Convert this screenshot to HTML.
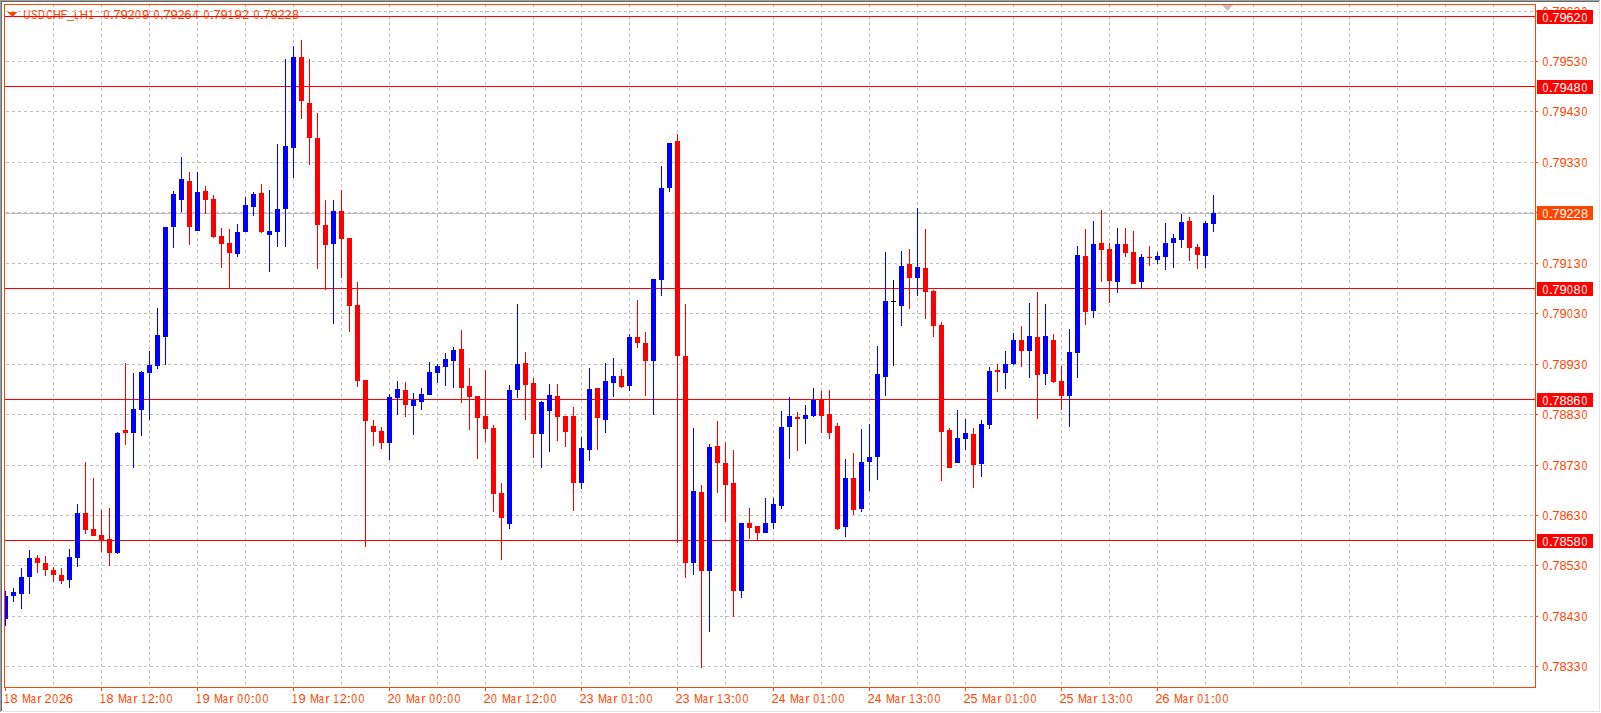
<!DOCTYPE html><html><head><meta charset="utf-8"><style>
html,body{margin:0;padding:0;background:#fff;overflow:hidden}
svg{display:block} text{font-family:"Liberation Sans", sans-serif;}
</style></head><body>
<svg width="1601" height="713" viewBox="0 0 1601 713">
<defs><clipPath id="ca"><rect x="5" y="5" width="1530" height="682"/></clipPath></defs>
<rect x="0" y="0" width="1601" height="713" fill="#fff"/>
<g shape-rendering="crispEdges">
<g stroke="#C0C0C0" stroke-width="1" stroke-dasharray="3 3" fill="none">
<line x1="6" y1="11.5" x2="1535" y2="11.5"/>
<line x1="6" y1="61.5" x2="1535" y2="61.5"/>
<line x1="6" y1="111.5" x2="1535" y2="111.5"/>
<line x1="6" y1="162.5" x2="1535" y2="162.5"/>
<line x1="6" y1="212.5" x2="1535" y2="212.5"/>
<line x1="6" y1="263.5" x2="1535" y2="263.5"/>
<line x1="6" y1="313.5" x2="1535" y2="313.5"/>
<line x1="6" y1="364.5" x2="1535" y2="364.5"/>
<line x1="6" y1="414.5" x2="1535" y2="414.5"/>
<line x1="6" y1="465.5" x2="1535" y2="465.5"/>
<line x1="6" y1="515.5" x2="1535" y2="515.5"/>
<line x1="6" y1="565.5" x2="1535" y2="565.5"/>
<line x1="6" y1="616.5" x2="1535" y2="616.5"/>
<line x1="6" y1="666.5" x2="1535" y2="666.5"/>
<line x1="53.5" y1="4" x2="53.5" y2="687"/>
<line x1="101.5" y1="4" x2="101.5" y2="687"/>
<line x1="149.5" y1="4" x2="149.5" y2="687"/>
<line x1="197.5" y1="4" x2="197.5" y2="687"/>
<line x1="245.5" y1="4" x2="245.5" y2="687"/>
<line x1="293.5" y1="4" x2="293.5" y2="687"/>
<line x1="341.5" y1="4" x2="341.5" y2="687"/>
<line x1="389.5" y1="4" x2="389.5" y2="687"/>
<line x1="437.5" y1="4" x2="437.5" y2="687"/>
<line x1="485.5" y1="4" x2="485.5" y2="687"/>
<line x1="533.5" y1="4" x2="533.5" y2="687"/>
<line x1="581.5" y1="4" x2="581.5" y2="687"/>
<line x1="629.5" y1="4" x2="629.5" y2="687"/>
<line x1="677.5" y1="4" x2="677.5" y2="687"/>
<line x1="725.5" y1="4" x2="725.5" y2="687"/>
<line x1="773.5" y1="4" x2="773.5" y2="687"/>
<line x1="821.5" y1="4" x2="821.5" y2="687"/>
<line x1="869.5" y1="4" x2="869.5" y2="687"/>
<line x1="917.5" y1="4" x2="917.5" y2="687"/>
<line x1="965.5" y1="4" x2="965.5" y2="687"/>
<line x1="1013.5" y1="4" x2="1013.5" y2="687"/>
<line x1="1061.5" y1="4" x2="1061.5" y2="687"/>
<line x1="1109.5" y1="4" x2="1109.5" y2="687"/>
<line x1="1157.5" y1="4" x2="1157.5" y2="687"/>
<line x1="1205.5" y1="4" x2="1205.5" y2="687"/>
<line x1="1253.5" y1="4" x2="1253.5" y2="687"/>
<line x1="1301.5" y1="4" x2="1301.5" y2="687"/>
<line x1="1349.5" y1="4" x2="1349.5" y2="687"/>
<line x1="1397.5" y1="4" x2="1397.5" y2="687"/>
<line x1="1445.5" y1="4" x2="1445.5" y2="687"/>
<line x1="1493.5" y1="4" x2="1493.5" y2="687"/>
</g>
<rect x="5" y="213" width="1530" height="1" fill="#C0C0C0"/>
</g>
<g font-size="12.7" fill="#FF4500">
<text transform="translate(23.34,0) scale(0.776,1)" x="0" y="19">U</text>
<text transform="translate(31.33,0) scale(0.725,1)" x="0" y="19">S</text>
<text transform="translate(38.02,0) scale(0.744,1)" x="0" y="19">D</text>
<text transform="translate(46.35,0) scale(0.696,1)" x="0" y="19">C</text>
<text transform="translate(52.67,0) scale(0.888,1)" x="0" y="19">H</text>
<text transform="translate(60.86,0) scale(0.805,1)" x="0" y="19">F</text>
<text transform="translate(66.99,0) scale(0.973,1)" x="0" y="18">_</text>
<text transform="translate(74.01,0) scale(0.985,1)" x="0" y="19">i</text>
<text transform="translate(75.16,0) scale(1.043,1)" x="0" y="19">,</text>
<text transform="translate(79.82,0) scale(0.888,1)" x="0" y="19">H</text>
<text transform="translate(88.19,0) scale(0.785,1)" x="0" y="19">1</text>
<text transform="translate(103.59,0) scale(0.824,1)" x="0" y="19">0</text>
<text transform="translate(109.37,0) scale(1.489,1)" x="0" y="19">.</text>
<text transform="translate(113.32,0) scale(1.039,1)" x="0" y="19">7</text>
<text transform="translate(120.39,0) scale(1.023,1)" x="0" y="19">9</text>
<text transform="translate(127.46,0) scale(1.002,1)" x="0" y="19">2</text>
<text transform="translate(135.09,0) scale(0.824,1)" x="0" y="19">0</text>
<text transform="translate(141.89,0) scale(1.023,1)" x="0" y="19">9</text>
<text transform="translate(153.59,0) scale(0.824,1)" x="0" y="19">0</text>
<text transform="translate(159.37,0) scale(1.489,1)" x="0" y="19">.</text>
<text transform="translate(163.32,0) scale(1.039,1)" x="0" y="19">7</text>
<text transform="translate(170.39,0) scale(1.023,1)" x="0" y="19">9</text>
<text transform="translate(177.46,0) scale(1.002,1)" x="0" y="19">2</text>
<text transform="translate(184.34,0) scale(1.024,1)" x="0" y="19">6</text>
<text transform="translate(192.23,0) scale(0.938,1)" x="0" y="19">4</text>
<text transform="translate(203.59,0) scale(0.824,1)" x="0" y="19">0</text>
<text transform="translate(209.37,0) scale(1.489,1)" x="0" y="19">.</text>
<text transform="translate(213.32,0) scale(1.039,1)" x="0" y="19">7</text>
<text transform="translate(220.39,0) scale(1.023,1)" x="0" y="19">9</text>
<text transform="translate(228.09,0) scale(0.785,1)" x="0" y="19">1</text>
<text transform="translate(234.39,0) scale(1.023,1)" x="0" y="19">9</text>
<text transform="translate(241.96,0) scale(1.002,1)" x="0" y="19">2</text>
<text transform="translate(253.59,0) scale(0.824,1)" x="0" y="19">0</text>
<text transform="translate(259.37,0) scale(1.489,1)" x="0" y="19">.</text>
<text transform="translate(263.32,0) scale(1.039,1)" x="0" y="19">7</text>
<text transform="translate(270.39,0) scale(1.023,1)" x="0" y="19">9</text>
<text transform="translate(277.46,0) scale(1.002,1)" x="0" y="19">2</text>
<text transform="translate(284.46,0) scale(1.002,1)" x="0" y="19">2</text>
<text transform="translate(291.94,0) scale(1.007,1)" x="0" y="19">8</text>
</g>
<g shape-rendering="crispEdges">
<rect x="5" y="16" width="1530" height="1" fill="#FF0000"/>
<rect x="5" y="86" width="1530" height="1" fill="#FF0000"/>
<rect x="5" y="288" width="1530" height="1" fill="#FF0000"/>
<rect x="5" y="399" width="1530" height="1" fill="#FF0000"/>
<rect x="5" y="540" width="1530" height="1" fill="#FF0000"/>
<g clip-path="url(#ca)">
<rect x="5" y="591" width="1" height="35" fill="#0000FF"/>
<rect x="3" y="596" width="5" height="23" fill="#0000FF"/>
<rect x="13" y="588" width="1" height="14" fill="#0000FF"/>
<rect x="11" y="592" width="5" height="4" fill="#0000FF"/>
<rect x="21" y="568" width="1" height="41" fill="#0000FF"/>
<rect x="19" y="577" width="5" height="17" fill="#0000FF"/>
<rect x="29" y="550" width="1" height="44" fill="#0000FF"/>
<rect x="27" y="558" width="5" height="19" fill="#0000FF"/>
<rect x="37" y="555" width="1" height="18" fill="#FF0000"/>
<rect x="35" y="558" width="5" height="5" fill="#FF0000"/>
<rect x="45" y="556" width="1" height="20" fill="#FF0000"/>
<rect x="43" y="563" width="5" height="7" fill="#FF0000"/>
<rect x="53" y="567" width="1" height="15" fill="#FF0000"/>
<rect x="51" y="570" width="5" height="5" fill="#FF0000"/>
<rect x="61" y="568" width="1" height="16" fill="#FF0000"/>
<rect x="59" y="575" width="5" height="6" fill="#FF0000"/>
<rect x="69" y="549" width="1" height="39" fill="#0000FF"/>
<rect x="67" y="557" width="5" height="23" fill="#0000FF"/>
<rect x="77" y="504" width="1" height="63" fill="#0000FF"/>
<rect x="75" y="513" width="5" height="45" fill="#0000FF"/>
<rect x="85" y="462" width="1" height="72" fill="#FF0000"/>
<rect x="83" y="513" width="5" height="17" fill="#FF0000"/>
<rect x="93" y="478" width="1" height="58" fill="#FF0000"/>
<rect x="91" y="529" width="5" height="7" fill="#FF0000"/>
<rect x="101" y="510" width="1" height="42" fill="#FF0000"/>
<rect x="99" y="535" width="5" height="6" fill="#FF0000"/>
<rect x="109" y="508" width="1" height="58" fill="#FF0000"/>
<rect x="107" y="539" width="5" height="14" fill="#FF0000"/>
<rect x="117" y="432" width="1" height="122" fill="#0000FF"/>
<rect x="115" y="433" width="5" height="120" fill="#0000FF"/>
<rect x="125" y="363" width="1" height="82" fill="#FF0000"/>
<rect x="123" y="430" width="5" height="3" fill="#FF0000"/>
<rect x="133" y="373" width="1" height="95" fill="#0000FF"/>
<rect x="131" y="409" width="5" height="24" fill="#0000FF"/>
<rect x="141" y="371" width="1" height="65" fill="#0000FF"/>
<rect x="139" y="372" width="5" height="38" fill="#0000FF"/>
<rect x="149" y="351" width="1" height="69" fill="#0000FF"/>
<rect x="147" y="365" width="5" height="8" fill="#0000FF"/>
<rect x="157" y="308" width="1" height="61" fill="#0000FF"/>
<rect x="155" y="335" width="5" height="31" fill="#0000FF"/>
<rect x="165" y="227" width="1" height="138" fill="#0000FF"/>
<rect x="163" y="227" width="5" height="110" fill="#0000FF"/>
<rect x="173" y="191" width="1" height="57" fill="#0000FF"/>
<rect x="171" y="194" width="5" height="33" fill="#0000FF"/>
<rect x="181" y="157" width="1" height="55" fill="#0000FF"/>
<rect x="179" y="179" width="5" height="21" fill="#0000FF"/>
<rect x="189" y="172" width="1" height="73" fill="#FF0000"/>
<rect x="187" y="181" width="5" height="46" fill="#FF0000"/>
<rect x="197" y="172" width="1" height="59" fill="#0000FF"/>
<rect x="195" y="192" width="5" height="39" fill="#0000FF"/>
<rect x="205" y="186" width="1" height="28" fill="#FF0000"/>
<rect x="203" y="191" width="5" height="9" fill="#FF0000"/>
<rect x="213" y="195" width="1" height="43" fill="#FF0000"/>
<rect x="211" y="199" width="5" height="38" fill="#FF0000"/>
<rect x="221" y="228" width="1" height="40" fill="#FF0000"/>
<rect x="219" y="236" width="5" height="8" fill="#FF0000"/>
<rect x="229" y="229" width="1" height="60" fill="#FF0000"/>
<rect x="227" y="243" width="5" height="10" fill="#FF0000"/>
<rect x="237" y="224" width="1" height="33" fill="#0000FF"/>
<rect x="235" y="232" width="5" height="22" fill="#0000FF"/>
<rect x="245" y="197" width="1" height="35" fill="#0000FF"/>
<rect x="243" y="205" width="5" height="27" fill="#0000FF"/>
<rect x="253" y="192" width="1" height="24" fill="#0000FF"/>
<rect x="251" y="194" width="5" height="13" fill="#0000FF"/>
<rect x="261" y="184" width="1" height="49" fill="#FF0000"/>
<rect x="259" y="193" width="5" height="39" fill="#FF0000"/>
<rect x="269" y="190" width="1" height="82" fill="#0000FF"/>
<rect x="267" y="231" width="5" height="4" fill="#0000FF"/>
<rect x="277" y="144" width="1" height="103" fill="#0000FF"/>
<rect x="275" y="209" width="5" height="23" fill="#0000FF"/>
<rect x="285" y="59" width="1" height="188" fill="#0000FF"/>
<rect x="283" y="146" width="5" height="63" fill="#0000FF"/>
<rect x="293" y="46" width="1" height="132" fill="#0000FF"/>
<rect x="291" y="57" width="5" height="91" fill="#0000FF"/>
<rect x="301" y="40" width="1" height="79" fill="#FF0000"/>
<rect x="299" y="57" width="5" height="44" fill="#FF0000"/>
<rect x="309" y="59" width="1" height="106" fill="#FF0000"/>
<rect x="307" y="103" width="5" height="35" fill="#FF0000"/>
<rect x="317" y="113" width="1" height="156" fill="#FF0000"/>
<rect x="315" y="138" width="5" height="87" fill="#FF0000"/>
<rect x="325" y="200" width="1" height="90" fill="#FF0000"/>
<rect x="323" y="225" width="5" height="20" fill="#FF0000"/>
<rect x="333" y="200" width="1" height="124" fill="#0000FF"/>
<rect x="331" y="211" width="5" height="33" fill="#0000FF"/>
<rect x="341" y="190" width="1" height="88" fill="#FF0000"/>
<rect x="339" y="211" width="5" height="28" fill="#FF0000"/>
<rect x="349" y="238" width="1" height="94" fill="#FF0000"/>
<rect x="347" y="238" width="5" height="68" fill="#FF0000"/>
<rect x="357" y="282" width="1" height="105" fill="#FF0000"/>
<rect x="355" y="305" width="5" height="76" fill="#FF0000"/>
<rect x="365" y="380" width="1" height="167" fill="#FF0000"/>
<rect x="363" y="380" width="5" height="41" fill="#FF0000"/>
<rect x="373" y="420" width="1" height="26" fill="#FF0000"/>
<rect x="371" y="426" width="5" height="6" fill="#FF0000"/>
<rect x="381" y="427" width="1" height="22" fill="#FF0000"/>
<rect x="379" y="431" width="5" height="12" fill="#FF0000"/>
<rect x="389" y="394" width="1" height="66" fill="#0000FF"/>
<rect x="387" y="397" width="5" height="46" fill="#0000FF"/>
<rect x="397" y="381" width="1" height="34" fill="#0000FF"/>
<rect x="395" y="389" width="5" height="9" fill="#0000FF"/>
<rect x="405" y="382" width="1" height="35" fill="#FF0000"/>
<rect x="403" y="390" width="5" height="15" fill="#FF0000"/>
<rect x="413" y="393" width="1" height="42" fill="#0000FF"/>
<rect x="411" y="400" width="5" height="6" fill="#0000FF"/>
<rect x="421" y="388" width="1" height="22" fill="#0000FF"/>
<rect x="419" y="394" width="5" height="8" fill="#0000FF"/>
<rect x="429" y="362" width="1" height="33" fill="#0000FF"/>
<rect x="427" y="372" width="5" height="23" fill="#0000FF"/>
<rect x="437" y="364" width="1" height="19" fill="#0000FF"/>
<rect x="435" y="366" width="5" height="7" fill="#0000FF"/>
<rect x="445" y="353" width="1" height="33" fill="#0000FF"/>
<rect x="443" y="359" width="5" height="8" fill="#0000FF"/>
<rect x="453" y="347" width="1" height="41" fill="#0000FF"/>
<rect x="451" y="350" width="5" height="11" fill="#0000FF"/>
<rect x="461" y="330" width="1" height="73" fill="#FF0000"/>
<rect x="459" y="349" width="5" height="39" fill="#FF0000"/>
<rect x="469" y="368" width="1" height="62" fill="#FF0000"/>
<rect x="467" y="386" width="5" height="11" fill="#FF0000"/>
<rect x="477" y="396" width="1" height="63" fill="#FF0000"/>
<rect x="475" y="396" width="5" height="22" fill="#FF0000"/>
<rect x="485" y="370" width="1" height="72" fill="#FF0000"/>
<rect x="483" y="416" width="5" height="13" fill="#FF0000"/>
<rect x="493" y="425" width="1" height="87" fill="#FF0000"/>
<rect x="491" y="428" width="5" height="66" fill="#FF0000"/>
<rect x="501" y="483" width="1" height="77" fill="#FF0000"/>
<rect x="499" y="493" width="5" height="25" fill="#FF0000"/>
<rect x="509" y="385" width="1" height="144" fill="#0000FF"/>
<rect x="507" y="390" width="5" height="134" fill="#0000FF"/>
<rect x="517" y="304" width="1" height="94" fill="#0000FF"/>
<rect x="515" y="364" width="5" height="26" fill="#0000FF"/>
<rect x="525" y="352" width="1" height="68" fill="#FF0000"/>
<rect x="523" y="363" width="5" height="22" fill="#FF0000"/>
<rect x="533" y="378" width="1" height="80" fill="#FF0000"/>
<rect x="531" y="383" width="5" height="51" fill="#FF0000"/>
<rect x="541" y="401" width="1" height="67" fill="#0000FF"/>
<rect x="539" y="402" width="5" height="32" fill="#0000FF"/>
<rect x="549" y="384" width="1" height="68" fill="#0000FF"/>
<rect x="547" y="395" width="5" height="16" fill="#0000FF"/>
<rect x="557" y="384" width="1" height="57" fill="#FF0000"/>
<rect x="555" y="396" width="5" height="21" fill="#FF0000"/>
<rect x="565" y="416" width="1" height="31" fill="#FF0000"/>
<rect x="563" y="416" width="5" height="16" fill="#FF0000"/>
<rect x="573" y="407" width="1" height="104" fill="#FF0000"/>
<rect x="571" y="416" width="5" height="67" fill="#FF0000"/>
<rect x="581" y="437" width="1" height="52" fill="#0000FF"/>
<rect x="579" y="448" width="5" height="35" fill="#0000FF"/>
<rect x="589" y="368" width="1" height="93" fill="#0000FF"/>
<rect x="587" y="389" width="5" height="61" fill="#0000FF"/>
<rect x="597" y="388" width="1" height="62" fill="#FF0000"/>
<rect x="595" y="388" width="5" height="30" fill="#FF0000"/>
<rect x="605" y="363" width="1" height="70" fill="#0000FF"/>
<rect x="603" y="381" width="5" height="39" fill="#0000FF"/>
<rect x="613" y="358" width="1" height="39" fill="#0000FF"/>
<rect x="611" y="376" width="5" height="7" fill="#0000FF"/>
<rect x="621" y="369" width="1" height="19" fill="#FF0000"/>
<rect x="619" y="376" width="5" height="11" fill="#FF0000"/>
<rect x="629" y="334" width="1" height="57" fill="#0000FF"/>
<rect x="627" y="337" width="5" height="49" fill="#0000FF"/>
<rect x="637" y="300" width="1" height="48" fill="#FF0000"/>
<rect x="635" y="337" width="5" height="6" fill="#FF0000"/>
<rect x="645" y="332" width="1" height="64" fill="#FF0000"/>
<rect x="643" y="343" width="5" height="18" fill="#FF0000"/>
<rect x="653" y="279" width="1" height="136" fill="#0000FF"/>
<rect x="651" y="279" width="5" height="82" fill="#0000FF"/>
<rect x="661" y="166" width="1" height="130" fill="#0000FF"/>
<rect x="659" y="188" width="5" height="92" fill="#0000FF"/>
<rect x="669" y="143" width="1" height="49" fill="#0000FF"/>
<rect x="667" y="143" width="5" height="45" fill="#0000FF"/>
<rect x="677" y="134" width="1" height="409" fill="#FF0000"/>
<rect x="675" y="141" width="5" height="215" fill="#FF0000"/>
<rect x="685" y="304" width="1" height="274" fill="#FF0000"/>
<rect x="683" y="356" width="5" height="207" fill="#FF0000"/>
<rect x="693" y="428" width="1" height="147" fill="#0000FF"/>
<rect x="691" y="491" width="5" height="72" fill="#0000FF"/>
<rect x="701" y="485" width="1" height="183" fill="#FF0000"/>
<rect x="699" y="492" width="5" height="79" fill="#FF0000"/>
<rect x="709" y="444" width="1" height="188" fill="#0000FF"/>
<rect x="707" y="447" width="5" height="124" fill="#0000FF"/>
<rect x="717" y="421" width="1" height="72" fill="#FF0000"/>
<rect x="715" y="446" width="5" height="17" fill="#FF0000"/>
<rect x="725" y="442" width="1" height="80" fill="#FF0000"/>
<rect x="723" y="463" width="5" height="22" fill="#FF0000"/>
<rect x="733" y="450" width="1" height="167" fill="#FF0000"/>
<rect x="731" y="483" width="5" height="108" fill="#FF0000"/>
<rect x="741" y="523" width="1" height="75" fill="#0000FF"/>
<rect x="739" y="523" width="5" height="68" fill="#0000FF"/>
<rect x="749" y="508" width="1" height="31" fill="#FF0000"/>
<rect x="747" y="523" width="5" height="5" fill="#FF0000"/>
<rect x="757" y="526" width="1" height="15" fill="#FF0000"/>
<rect x="755" y="526" width="5" height="7" fill="#FF0000"/>
<rect x="765" y="498" width="1" height="35" fill="#0000FF"/>
<rect x="763" y="523" width="5" height="10" fill="#0000FF"/>
<rect x="773" y="498" width="1" height="31" fill="#0000FF"/>
<rect x="771" y="504" width="5" height="19" fill="#0000FF"/>
<rect x="781" y="411" width="1" height="98" fill="#0000FF"/>
<rect x="779" y="427" width="5" height="79" fill="#0000FF"/>
<rect x="789" y="397" width="1" height="62" fill="#0000FF"/>
<rect x="787" y="416" width="5" height="11" fill="#0000FF"/>
<rect x="797" y="412" width="1" height="39" fill="#FF0000"/>
<rect x="795" y="417" width="5" height="2" fill="#FF0000"/>
<rect x="805" y="405" width="1" height="39" fill="#0000FF"/>
<rect x="803" y="415" width="5" height="4" fill="#0000FF"/>
<rect x="813" y="388" width="1" height="29" fill="#0000FF"/>
<rect x="811" y="400" width="5" height="16" fill="#0000FF"/>
<rect x="821" y="391" width="1" height="42" fill="#FF0000"/>
<rect x="819" y="400" width="5" height="16" fill="#FF0000"/>
<rect x="829" y="390" width="1" height="49" fill="#FF0000"/>
<rect x="827" y="414" width="5" height="19" fill="#FF0000"/>
<rect x="837" y="423" width="1" height="107" fill="#FF0000"/>
<rect x="835" y="426" width="5" height="103" fill="#FF0000"/>
<rect x="845" y="459" width="1" height="78" fill="#0000FF"/>
<rect x="843" y="478" width="5" height="49" fill="#0000FF"/>
<rect x="853" y="453" width="1" height="62" fill="#FF0000"/>
<rect x="851" y="478" width="5" height="32" fill="#FF0000"/>
<rect x="861" y="429" width="1" height="83" fill="#0000FF"/>
<rect x="859" y="462" width="5" height="47" fill="#0000FF"/>
<rect x="869" y="424" width="1" height="67" fill="#0000FF"/>
<rect x="867" y="457" width="5" height="5" fill="#0000FF"/>
<rect x="877" y="346" width="1" height="134" fill="#0000FF"/>
<rect x="875" y="374" width="5" height="83" fill="#0000FF"/>
<rect x="885" y="252" width="1" height="144" fill="#0000FF"/>
<rect x="883" y="301" width="5" height="76" fill="#0000FF"/>
<rect x="893" y="280" width="1" height="86" fill="#000000"/>
<rect x="891" y="301" width="5" height="1" fill="#000000"/>
<rect x="901" y="251" width="1" height="75" fill="#0000FF"/>
<rect x="899" y="266" width="5" height="40" fill="#0000FF"/>
<rect x="909" y="249" width="1" height="60" fill="#FF0000"/>
<rect x="907" y="264" width="5" height="14" fill="#FF0000"/>
<rect x="917" y="208" width="1" height="88" fill="#0000FF"/>
<rect x="915" y="267" width="5" height="11" fill="#0000FF"/>
<rect x="925" y="229" width="1" height="90" fill="#FF0000"/>
<rect x="923" y="268" width="5" height="24" fill="#FF0000"/>
<rect x="933" y="290" width="1" height="47" fill="#FF0000"/>
<rect x="931" y="291" width="5" height="35" fill="#FF0000"/>
<rect x="941" y="322" width="1" height="159" fill="#FF0000"/>
<rect x="939" y="325" width="5" height="107" fill="#FF0000"/>
<rect x="949" y="428" width="1" height="40" fill="#FF0000"/>
<rect x="947" y="430" width="5" height="38" fill="#FF0000"/>
<rect x="957" y="410" width="1" height="53" fill="#0000FF"/>
<rect x="955" y="438" width="5" height="25" fill="#0000FF"/>
<rect x="965" y="419" width="1" height="31" fill="#0000FF"/>
<rect x="963" y="433" width="5" height="6" fill="#0000FF"/>
<rect x="973" y="428" width="1" height="60" fill="#FF0000"/>
<rect x="971" y="434" width="5" height="31" fill="#FF0000"/>
<rect x="981" y="420" width="1" height="57" fill="#0000FF"/>
<rect x="979" y="424" width="5" height="40" fill="#0000FF"/>
<rect x="989" y="367" width="1" height="62" fill="#0000FF"/>
<rect x="987" y="371" width="5" height="54" fill="#0000FF"/>
<rect x="997" y="364" width="1" height="28" fill="#FF0000"/>
<rect x="995" y="370" width="5" height="2" fill="#FF0000"/>
<rect x="1005" y="351" width="1" height="38" fill="#0000FF"/>
<rect x="1003" y="364" width="5" height="9" fill="#0000FF"/>
<rect x="1013" y="333" width="1" height="32" fill="#0000FF"/>
<rect x="1011" y="340" width="5" height="24" fill="#0000FF"/>
<rect x="1021" y="326" width="1" height="41" fill="#FF0000"/>
<rect x="1019" y="340" width="5" height="11" fill="#FF0000"/>
<rect x="1029" y="303" width="1" height="75" fill="#0000FF"/>
<rect x="1027" y="336" width="5" height="15" fill="#0000FF"/>
<rect x="1037" y="292" width="1" height="127" fill="#FF0000"/>
<rect x="1035" y="337" width="5" height="38" fill="#FF0000"/>
<rect x="1045" y="304" width="1" height="81" fill="#0000FF"/>
<rect x="1043" y="336" width="5" height="38" fill="#0000FF"/>
<rect x="1053" y="334" width="1" height="49" fill="#FF0000"/>
<rect x="1051" y="340" width="5" height="42" fill="#FF0000"/>
<rect x="1061" y="366" width="1" height="44" fill="#FF0000"/>
<rect x="1059" y="381" width="5" height="15" fill="#FF0000"/>
<rect x="1069" y="329" width="1" height="98" fill="#0000FF"/>
<rect x="1067" y="352" width="5" height="44" fill="#0000FF"/>
<rect x="1077" y="246" width="1" height="132" fill="#0000FF"/>
<rect x="1075" y="255" width="5" height="98" fill="#0000FF"/>
<rect x="1085" y="229" width="1" height="96" fill="#FF0000"/>
<rect x="1083" y="256" width="5" height="56" fill="#FF0000"/>
<rect x="1093" y="221" width="1" height="97" fill="#0000FF"/>
<rect x="1091" y="244" width="5" height="67" fill="#0000FF"/>
<rect x="1101" y="210" width="1" height="72" fill="#FF0000"/>
<rect x="1099" y="243" width="5" height="7" fill="#FF0000"/>
<rect x="1109" y="243" width="1" height="60" fill="#FF0000"/>
<rect x="1107" y="249" width="5" height="32" fill="#FF0000"/>
<rect x="1117" y="228" width="1" height="65" fill="#0000FF"/>
<rect x="1115" y="244" width="5" height="38" fill="#0000FF"/>
<rect x="1125" y="228" width="1" height="29" fill="#FF0000"/>
<rect x="1123" y="244" width="5" height="9" fill="#FF0000"/>
<rect x="1133" y="231" width="1" height="53" fill="#FF0000"/>
<rect x="1131" y="252" width="5" height="32" fill="#FF0000"/>
<rect x="1141" y="254" width="1" height="35" fill="#0000FF"/>
<rect x="1139" y="257" width="5" height="25" fill="#0000FF"/>
<rect x="1149" y="246" width="1" height="20" fill="#FF0000"/>
<rect x="1147" y="257" width="5" height="1" fill="#FF0000"/>
<rect x="1157" y="252" width="1" height="12" fill="#0000FF"/>
<rect x="1155" y="256" width="5" height="4" fill="#0000FF"/>
<rect x="1165" y="223" width="1" height="47" fill="#0000FF"/>
<rect x="1163" y="243" width="5" height="14" fill="#0000FF"/>
<rect x="1173" y="234" width="1" height="34" fill="#0000FF"/>
<rect x="1171" y="238" width="5" height="5" fill="#0000FF"/>
<rect x="1181" y="214" width="1" height="34" fill="#0000FF"/>
<rect x="1179" y="222" width="5" height="18" fill="#0000FF"/>
<rect x="1189" y="217" width="1" height="44" fill="#FF0000"/>
<rect x="1187" y="221" width="5" height="27" fill="#FF0000"/>
<rect x="1197" y="244" width="1" height="25" fill="#FF0000"/>
<rect x="1195" y="247" width="5" height="8" fill="#FF0000"/>
<rect x="1205" y="221" width="1" height="47" fill="#0000FF"/>
<rect x="1203" y="223" width="5" height="33" fill="#0000FF"/>
<rect x="1213" y="195" width="1" height="37" fill="#0000FF"/>
<rect x="1211" y="213" width="5" height="11" fill="#0000FF"/>
</g>
<polygon points="1222,5 1233,5 1227.5,11" fill="#C0C0C0" shape-rendering="auto"/>
<rect x="4" y="4" width="1532" height="1" fill="#FF4500"/>
<rect x="4" y="687" width="1532" height="1" fill="#FF4500"/>
<rect x="4" y="4" width="1" height="684" fill="#FF4500"/>
<rect x="1535" y="4" width="1" height="684" fill="#FF4500"/>
<rect x="1536" y="11" width="2" height="1" fill="#FF4500"/>
<rect x="1536" y="61" width="2" height="1" fill="#FF4500"/>
<rect x="1536" y="111" width="2" height="1" fill="#FF4500"/>
<rect x="1536" y="162" width="2" height="1" fill="#FF4500"/>
<rect x="1536" y="212" width="2" height="1" fill="#FF4500"/>
<rect x="1536" y="263" width="2" height="1" fill="#FF4500"/>
<rect x="1536" y="313" width="2" height="1" fill="#FF4500"/>
<rect x="1536" y="364" width="2" height="1" fill="#FF4500"/>
<rect x="1536" y="414" width="2" height="1" fill="#FF4500"/>
<rect x="1536" y="465" width="2" height="1" fill="#FF4500"/>
<rect x="1536" y="515" width="2" height="1" fill="#FF4500"/>
<rect x="1536" y="565" width="2" height="1" fill="#FF4500"/>
<rect x="1536" y="616" width="2" height="1" fill="#FF4500"/>
<rect x="1536" y="666" width="2" height="1" fill="#FF4500"/>
<rect x="5" y="688" width="1" height="3" fill="#FF4500"/>
<rect x="101" y="688" width="1" height="3" fill="#FF4500"/>
<rect x="197" y="688" width="1" height="3" fill="#FF4500"/>
<rect x="293" y="688" width="1" height="3" fill="#FF4500"/>
<rect x="389" y="688" width="1" height="3" fill="#FF4500"/>
<rect x="485" y="688" width="1" height="3" fill="#FF4500"/>
<rect x="581" y="688" width="1" height="3" fill="#FF4500"/>
<rect x="677" y="688" width="1" height="3" fill="#FF4500"/>
<rect x="773" y="688" width="1" height="3" fill="#FF4500"/>
<rect x="869" y="688" width="1" height="3" fill="#FF4500"/>
<rect x="965" y="688" width="1" height="3" fill="#FF4500"/>
<rect x="1061" y="688" width="1" height="3" fill="#FF4500"/>
<rect x="1157" y="688" width="1" height="3" fill="#FF4500"/>
<rect x="8" y="12" width="9" height="1" fill="#FF4500"/>
<rect x="9" y="13" width="7" height="1" fill="#FF4500"/>
<rect x="10" y="14" width="5" height="1" fill="#FF4500"/>
<rect x="11" y="15" width="3" height="1" fill="#FF4500"/>
<rect x="12" y="16" width="1" height="1" fill="#FF4500"/>
<rect x="0" y="0" width="1600" height="1" fill="#A0A0A0"/>
<rect x="0" y="0" width="1" height="712" fill="#A0A0A0"/>
<rect x="1" y="1" width="1598" height="1" fill="#696969"/>
<rect x="1" y="1" width="1" height="710" fill="#696969"/>
<rect x="1599" y="1" width="1" height="711" fill="#E3E3E3"/>
<rect x="1" y="711" width="1599" height="1" fill="#E3E3E3"/>
</g>
<g font-size="12.7" fill="#FF4500">
<text transform="translate(1542.59,0) scale(0.824,1)" x="0" y="16">0</text>
<text transform="translate(1548.37,0) scale(1.489,1)" x="0" y="16">.</text>
<text transform="translate(1552.32,0) scale(1.039,1)" x="0" y="16">7</text>
<text transform="translate(1559.39,0) scale(1.023,1)" x="0" y="16">9</text>
<text transform="translate(1566.34,0) scale(1.024,1)" x="0" y="16">6</text>
<text transform="translate(1573.52,0) scale(0.996,1)" x="0" y="16">3</text>
<text transform="translate(1581.59,0) scale(0.824,1)" x="0" y="16">0</text>
<text transform="translate(1542.59,0) scale(0.824,1)" x="0" y="66">0</text>
<text transform="translate(1548.37,0) scale(1.489,1)" x="0" y="66">.</text>
<text transform="translate(1552.32,0) scale(1.039,1)" x="0" y="66">7</text>
<text transform="translate(1559.39,0) scale(1.023,1)" x="0" y="66">9</text>
<text transform="translate(1566.49,0) scale(0.996,1)" x="0" y="66">5</text>
<text transform="translate(1573.52,0) scale(0.996,1)" x="0" y="66">3</text>
<text transform="translate(1581.59,0) scale(0.824,1)" x="0" y="66">0</text>
<text transform="translate(1542.59,0) scale(0.824,1)" x="0" y="116">0</text>
<text transform="translate(1548.37,0) scale(1.489,1)" x="0" y="116">.</text>
<text transform="translate(1552.32,0) scale(1.039,1)" x="0" y="116">7</text>
<text transform="translate(1559.39,0) scale(1.023,1)" x="0" y="116">9</text>
<text transform="translate(1566.73,0) scale(0.938,1)" x="0" y="116">4</text>
<text transform="translate(1573.52,0) scale(0.996,1)" x="0" y="116">3</text>
<text transform="translate(1581.59,0) scale(0.824,1)" x="0" y="116">0</text>
<text transform="translate(1542.59,0) scale(0.824,1)" x="0" y="167">0</text>
<text transform="translate(1548.37,0) scale(1.489,1)" x="0" y="167">.</text>
<text transform="translate(1552.32,0) scale(1.039,1)" x="0" y="167">7</text>
<text transform="translate(1559.39,0) scale(1.023,1)" x="0" y="167">9</text>
<text transform="translate(1566.52,0) scale(0.996,1)" x="0" y="167">3</text>
<text transform="translate(1573.52,0) scale(0.996,1)" x="0" y="167">3</text>
<text transform="translate(1581.59,0) scale(0.824,1)" x="0" y="167">0</text>
<text transform="translate(1542.59,0) scale(0.824,1)" x="0" y="217">0</text>
<text transform="translate(1548.37,0) scale(1.489,1)" x="0" y="217">.</text>
<text transform="translate(1552.32,0) scale(1.039,1)" x="0" y="217">7</text>
<text transform="translate(1559.39,0) scale(1.023,1)" x="0" y="217">9</text>
<text transform="translate(1566.46,0) scale(1.002,1)" x="0" y="217">2</text>
<text transform="translate(1573.52,0) scale(0.996,1)" x="0" y="217">3</text>
<text transform="translate(1581.59,0) scale(0.824,1)" x="0" y="217">0</text>
<text transform="translate(1542.59,0) scale(0.824,1)" x="0" y="268">0</text>
<text transform="translate(1548.37,0) scale(1.489,1)" x="0" y="268">.</text>
<text transform="translate(1552.32,0) scale(1.039,1)" x="0" y="268">7</text>
<text transform="translate(1559.39,0) scale(1.023,1)" x="0" y="268">9</text>
<text transform="translate(1567.09,0) scale(0.785,1)" x="0" y="268">1</text>
<text transform="translate(1573.52,0) scale(0.996,1)" x="0" y="268">3</text>
<text transform="translate(1581.59,0) scale(0.824,1)" x="0" y="268">0</text>
<text transform="translate(1542.59,0) scale(0.824,1)" x="0" y="318">0</text>
<text transform="translate(1548.37,0) scale(1.489,1)" x="0" y="318">.</text>
<text transform="translate(1552.32,0) scale(1.039,1)" x="0" y="318">7</text>
<text transform="translate(1559.39,0) scale(1.023,1)" x="0" y="318">9</text>
<text transform="translate(1567.09,0) scale(0.824,1)" x="0" y="318">0</text>
<text transform="translate(1573.52,0) scale(0.996,1)" x="0" y="318">3</text>
<text transform="translate(1581.59,0) scale(0.824,1)" x="0" y="318">0</text>
<text transform="translate(1542.59,0) scale(0.824,1)" x="0" y="369">0</text>
<text transform="translate(1548.37,0) scale(1.489,1)" x="0" y="369">.</text>
<text transform="translate(1552.32,0) scale(1.039,1)" x="0" y="369">7</text>
<text transform="translate(1559.44,0) scale(1.007,1)" x="0" y="369">8</text>
<text transform="translate(1566.39,0) scale(1.023,1)" x="0" y="369">9</text>
<text transform="translate(1573.52,0) scale(0.996,1)" x="0" y="369">3</text>
<text transform="translate(1581.59,0) scale(0.824,1)" x="0" y="369">0</text>
<text transform="translate(1542.59,0) scale(0.824,1)" x="0" y="419">0</text>
<text transform="translate(1548.37,0) scale(1.489,1)" x="0" y="419">.</text>
<text transform="translate(1552.32,0) scale(1.039,1)" x="0" y="419">7</text>
<text transform="translate(1559.44,0) scale(1.007,1)" x="0" y="419">8</text>
<text transform="translate(1566.44,0) scale(1.007,1)" x="0" y="419">8</text>
<text transform="translate(1573.52,0) scale(0.996,1)" x="0" y="419">3</text>
<text transform="translate(1581.59,0) scale(0.824,1)" x="0" y="419">0</text>
<text transform="translate(1542.59,0) scale(0.824,1)" x="0" y="470">0</text>
<text transform="translate(1548.37,0) scale(1.489,1)" x="0" y="470">.</text>
<text transform="translate(1552.32,0) scale(1.039,1)" x="0" y="470">7</text>
<text transform="translate(1559.44,0) scale(1.007,1)" x="0" y="470">8</text>
<text transform="translate(1566.32,0) scale(1.039,1)" x="0" y="470">7</text>
<text transform="translate(1573.52,0) scale(0.996,1)" x="0" y="470">3</text>
<text transform="translate(1581.59,0) scale(0.824,1)" x="0" y="470">0</text>
<text transform="translate(1542.59,0) scale(0.824,1)" x="0" y="520">0</text>
<text transform="translate(1548.37,0) scale(1.489,1)" x="0" y="520">.</text>
<text transform="translate(1552.32,0) scale(1.039,1)" x="0" y="520">7</text>
<text transform="translate(1559.44,0) scale(1.007,1)" x="0" y="520">8</text>
<text transform="translate(1566.34,0) scale(1.024,1)" x="0" y="520">6</text>
<text transform="translate(1573.52,0) scale(0.996,1)" x="0" y="520">3</text>
<text transform="translate(1581.59,0) scale(0.824,1)" x="0" y="520">0</text>
<text transform="translate(1542.59,0) scale(0.824,1)" x="0" y="570">0</text>
<text transform="translate(1548.37,0) scale(1.489,1)" x="0" y="570">.</text>
<text transform="translate(1552.32,0) scale(1.039,1)" x="0" y="570">7</text>
<text transform="translate(1559.44,0) scale(1.007,1)" x="0" y="570">8</text>
<text transform="translate(1566.49,0) scale(0.996,1)" x="0" y="570">5</text>
<text transform="translate(1573.52,0) scale(0.996,1)" x="0" y="570">3</text>
<text transform="translate(1581.59,0) scale(0.824,1)" x="0" y="570">0</text>
<text transform="translate(1542.59,0) scale(0.824,1)" x="0" y="621">0</text>
<text transform="translate(1548.37,0) scale(1.489,1)" x="0" y="621">.</text>
<text transform="translate(1552.32,0) scale(1.039,1)" x="0" y="621">7</text>
<text transform="translate(1559.44,0) scale(1.007,1)" x="0" y="621">8</text>
<text transform="translate(1566.73,0) scale(0.938,1)" x="0" y="621">4</text>
<text transform="translate(1573.52,0) scale(0.996,1)" x="0" y="621">3</text>
<text transform="translate(1581.59,0) scale(0.824,1)" x="0" y="621">0</text>
<text transform="translate(1542.59,0) scale(0.824,1)" x="0" y="671">0</text>
<text transform="translate(1548.37,0) scale(1.489,1)" x="0" y="671">.</text>
<text transform="translate(1552.32,0) scale(1.039,1)" x="0" y="671">7</text>
<text transform="translate(1559.44,0) scale(1.007,1)" x="0" y="671">8</text>
<text transform="translate(1566.52,0) scale(0.996,1)" x="0" y="671">3</text>
<text transform="translate(1573.52,0) scale(0.996,1)" x="0" y="671">3</text>
<text transform="translate(1581.59,0) scale(0.824,1)" x="0" y="671">0</text>
</g>
<g shape-rendering="crispEdges">
<rect x="1537" y="10" width="56" height="14" fill="#FF0000"/>
<rect x="1537" y="80" width="56" height="14" fill="#FF0000"/>
<rect x="1537" y="282" width="56" height="14" fill="#FF0000"/>
<rect x="1537" y="393" width="56" height="14" fill="#FF0000"/>
<rect x="1537" y="534" width="56" height="14" fill="#FF0000"/>
<rect x="1537" y="206" width="56" height="14" fill="#FF4500"/>
</g>
<g font-size="12.7" fill="#FFFFFF">
<text transform="translate(1542.59,0) scale(0.824,1)" x="0" y="22">0</text>
<text transform="translate(1548.37,0) scale(1.489,1)" x="0" y="22">.</text>
<text transform="translate(1552.32,0) scale(1.039,1)" x="0" y="22">7</text>
<text transform="translate(1559.39,0) scale(1.023,1)" x="0" y="22">9</text>
<text transform="translate(1566.34,0) scale(1.024,1)" x="0" y="22">6</text>
<text transform="translate(1573.46,0) scale(1.002,1)" x="0" y="22">2</text>
<text transform="translate(1581.59,0) scale(0.824,1)" x="0" y="22">0</text>
<text transform="translate(1542.59,0) scale(0.824,1)" x="0" y="92">0</text>
<text transform="translate(1548.37,0) scale(1.489,1)" x="0" y="92">.</text>
<text transform="translate(1552.32,0) scale(1.039,1)" x="0" y="92">7</text>
<text transform="translate(1559.39,0) scale(1.023,1)" x="0" y="92">9</text>
<text transform="translate(1566.73,0) scale(0.938,1)" x="0" y="92">4</text>
<text transform="translate(1573.44,0) scale(1.007,1)" x="0" y="92">8</text>
<text transform="translate(1581.59,0) scale(0.824,1)" x="0" y="92">0</text>
<text transform="translate(1542.59,0) scale(0.824,1)" x="0" y="294">0</text>
<text transform="translate(1548.37,0) scale(1.489,1)" x="0" y="294">.</text>
<text transform="translate(1552.32,0) scale(1.039,1)" x="0" y="294">7</text>
<text transform="translate(1559.39,0) scale(1.023,1)" x="0" y="294">9</text>
<text transform="translate(1567.09,0) scale(0.824,1)" x="0" y="294">0</text>
<text transform="translate(1573.44,0) scale(1.007,1)" x="0" y="294">8</text>
<text transform="translate(1581.59,0) scale(0.824,1)" x="0" y="294">0</text>
<text transform="translate(1542.59,0) scale(0.824,1)" x="0" y="405">0</text>
<text transform="translate(1548.37,0) scale(1.489,1)" x="0" y="405">.</text>
<text transform="translate(1552.32,0) scale(1.039,1)" x="0" y="405">7</text>
<text transform="translate(1559.44,0) scale(1.007,1)" x="0" y="405">8</text>
<text transform="translate(1566.44,0) scale(1.007,1)" x="0" y="405">8</text>
<text transform="translate(1573.34,0) scale(1.024,1)" x="0" y="405">6</text>
<text transform="translate(1581.59,0) scale(0.824,1)" x="0" y="405">0</text>
<text transform="translate(1542.59,0) scale(0.824,1)" x="0" y="546">0</text>
<text transform="translate(1548.37,0) scale(1.489,1)" x="0" y="546">.</text>
<text transform="translate(1552.32,0) scale(1.039,1)" x="0" y="546">7</text>
<text transform="translate(1559.44,0) scale(1.007,1)" x="0" y="546">8</text>
<text transform="translate(1566.49,0) scale(0.996,1)" x="0" y="546">5</text>
<text transform="translate(1573.44,0) scale(1.007,1)" x="0" y="546">8</text>
<text transform="translate(1581.59,0) scale(0.824,1)" x="0" y="546">0</text>
<text transform="translate(1542.59,0) scale(0.824,1)" x="0" y="218">0</text>
<text transform="translate(1548.37,0) scale(1.489,1)" x="0" y="218">.</text>
<text transform="translate(1552.32,0) scale(1.039,1)" x="0" y="218">7</text>
<text transform="translate(1559.39,0) scale(1.023,1)" x="0" y="218">9</text>
<text transform="translate(1566.46,0) scale(1.002,1)" x="0" y="218">2</text>
<text transform="translate(1573.46,0) scale(1.002,1)" x="0" y="218">2</text>
<text transform="translate(1580.94,0) scale(1.007,1)" x="0" y="218">8</text>
</g>
<g font-size="12.7" fill="#FF4500">
<text transform="translate(4.09,0) scale(0.785,1)" x="0" y="703">1</text>
<text transform="translate(10.44,0) scale(1.007,1)" x="0" y="703">8</text>
<text transform="translate(21.99,0) scale(0.853,1)" x="0" y="703">M</text>
<text transform="translate(30.70,0) scale(0.736,1)" x="0" y="703">a</text>
<text transform="translate(37.27,0) scale(1.039,1)" x="0" y="703">r</text>
<text transform="translate(44.46,0) scale(1.002,1)" x="0" y="703">2</text>
<text transform="translate(52.34,0) scale(0.824,1)" x="0" y="703">0</text>
<text transform="translate(58.96,0) scale(1.002,1)" x="0" y="703">2</text>
<text transform="translate(65.84,0) scale(1.024,1)" x="0" y="703">6</text>
<text transform="translate(100.09,0) scale(0.785,1)" x="0" y="703">1</text>
<text transform="translate(106.44,0) scale(1.007,1)" x="0" y="703">8</text>
<text transform="translate(117.99,0) scale(0.853,1)" x="0" y="703">M</text>
<text transform="translate(126.70,0) scale(0.736,1)" x="0" y="703">a</text>
<text transform="translate(133.27,0) scale(1.039,1)" x="0" y="703">r</text>
<text transform="translate(141.19,0) scale(0.785,1)" x="0" y="703">1</text>
<text transform="translate(147.66,0) scale(1.002,1)" x="0" y="703">2</text>
<text transform="translate(154.27,0) scale(1.489,1)" x="0" y="703">:</text>
<text transform="translate(159.34,0) scale(0.824,1)" x="0" y="703">0</text>
<text transform="translate(166.44,0) scale(0.824,1)" x="0" y="703">0</text>
<text transform="translate(196.09,0) scale(0.785,1)" x="0" y="703">1</text>
<text transform="translate(202.39,0) scale(1.023,1)" x="0" y="703">9</text>
<text transform="translate(213.99,0) scale(0.853,1)" x="0" y="703">M</text>
<text transform="translate(222.70,0) scale(0.736,1)" x="0" y="703">a</text>
<text transform="translate(229.27,0) scale(1.039,1)" x="0" y="703">r</text>
<text transform="translate(237.19,0) scale(0.824,1)" x="0" y="703">0</text>
<text transform="translate(244.29,0) scale(0.824,1)" x="0" y="703">0</text>
<text transform="translate(250.27,0) scale(1.489,1)" x="0" y="703">:</text>
<text transform="translate(255.34,0) scale(0.824,1)" x="0" y="703">0</text>
<text transform="translate(262.44,0) scale(0.824,1)" x="0" y="703">0</text>
<text transform="translate(292.09,0) scale(0.785,1)" x="0" y="703">1</text>
<text transform="translate(298.39,0) scale(1.023,1)" x="0" y="703">9</text>
<text transform="translate(309.99,0) scale(0.853,1)" x="0" y="703">M</text>
<text transform="translate(318.70,0) scale(0.736,1)" x="0" y="703">a</text>
<text transform="translate(325.27,0) scale(1.039,1)" x="0" y="703">r</text>
<text transform="translate(333.19,0) scale(0.785,1)" x="0" y="703">1</text>
<text transform="translate(339.66,0) scale(1.002,1)" x="0" y="703">2</text>
<text transform="translate(346.27,0) scale(1.489,1)" x="0" y="703">:</text>
<text transform="translate(351.34,0) scale(0.824,1)" x="0" y="703">0</text>
<text transform="translate(358.44,0) scale(0.824,1)" x="0" y="703">0</text>
<text transform="translate(387.46,0) scale(1.002,1)" x="0" y="703">2</text>
<text transform="translate(395.09,0) scale(0.824,1)" x="0" y="703">0</text>
<text transform="translate(405.99,0) scale(0.853,1)" x="0" y="703">M</text>
<text transform="translate(414.70,0) scale(0.736,1)" x="0" y="703">a</text>
<text transform="translate(421.27,0) scale(1.039,1)" x="0" y="703">r</text>
<text transform="translate(429.19,0) scale(0.824,1)" x="0" y="703">0</text>
<text transform="translate(436.29,0) scale(0.824,1)" x="0" y="703">0</text>
<text transform="translate(442.27,0) scale(1.489,1)" x="0" y="703">:</text>
<text transform="translate(447.34,0) scale(0.824,1)" x="0" y="703">0</text>
<text transform="translate(454.44,0) scale(0.824,1)" x="0" y="703">0</text>
<text transform="translate(483.46,0) scale(1.002,1)" x="0" y="703">2</text>
<text transform="translate(491.09,0) scale(0.824,1)" x="0" y="703">0</text>
<text transform="translate(501.99,0) scale(0.853,1)" x="0" y="703">M</text>
<text transform="translate(510.70,0) scale(0.736,1)" x="0" y="703">a</text>
<text transform="translate(517.27,0) scale(1.039,1)" x="0" y="703">r</text>
<text transform="translate(525.19,0) scale(0.785,1)" x="0" y="703">1</text>
<text transform="translate(531.66,0) scale(1.002,1)" x="0" y="703">2</text>
<text transform="translate(538.27,0) scale(1.489,1)" x="0" y="703">:</text>
<text transform="translate(543.34,0) scale(0.824,1)" x="0" y="703">0</text>
<text transform="translate(550.44,0) scale(0.824,1)" x="0" y="703">0</text>
<text transform="translate(579.46,0) scale(1.002,1)" x="0" y="703">2</text>
<text transform="translate(586.52,0) scale(0.996,1)" x="0" y="703">3</text>
<text transform="translate(597.99,0) scale(0.853,1)" x="0" y="703">M</text>
<text transform="translate(606.70,0) scale(0.736,1)" x="0" y="703">a</text>
<text transform="translate(613.27,0) scale(1.039,1)" x="0" y="703">r</text>
<text transform="translate(621.19,0) scale(0.824,1)" x="0" y="703">0</text>
<text transform="translate(628.29,0) scale(0.785,1)" x="0" y="703">1</text>
<text transform="translate(634.27,0) scale(1.489,1)" x="0" y="703">:</text>
<text transform="translate(639.34,0) scale(0.824,1)" x="0" y="703">0</text>
<text transform="translate(646.44,0) scale(0.824,1)" x="0" y="703">0</text>
<text transform="translate(675.46,0) scale(1.002,1)" x="0" y="703">2</text>
<text transform="translate(682.52,0) scale(0.996,1)" x="0" y="703">3</text>
<text transform="translate(693.99,0) scale(0.853,1)" x="0" y="703">M</text>
<text transform="translate(702.70,0) scale(0.736,1)" x="0" y="703">a</text>
<text transform="translate(709.27,0) scale(1.039,1)" x="0" y="703">r</text>
<text transform="translate(717.19,0) scale(0.785,1)" x="0" y="703">1</text>
<text transform="translate(723.72,0) scale(0.996,1)" x="0" y="703">3</text>
<text transform="translate(730.27,0) scale(1.489,1)" x="0" y="703">:</text>
<text transform="translate(735.34,0) scale(0.824,1)" x="0" y="703">0</text>
<text transform="translate(742.44,0) scale(0.824,1)" x="0" y="703">0</text>
<text transform="translate(771.46,0) scale(1.002,1)" x="0" y="703">2</text>
<text transform="translate(778.73,0) scale(0.938,1)" x="0" y="703">4</text>
<text transform="translate(789.99,0) scale(0.853,1)" x="0" y="703">M</text>
<text transform="translate(798.70,0) scale(0.736,1)" x="0" y="703">a</text>
<text transform="translate(805.27,0) scale(1.039,1)" x="0" y="703">r</text>
<text transform="translate(813.19,0) scale(0.824,1)" x="0" y="703">0</text>
<text transform="translate(820.29,0) scale(0.785,1)" x="0" y="703">1</text>
<text transform="translate(826.27,0) scale(1.489,1)" x="0" y="703">:</text>
<text transform="translate(831.34,0) scale(0.824,1)" x="0" y="703">0</text>
<text transform="translate(838.44,0) scale(0.824,1)" x="0" y="703">0</text>
<text transform="translate(867.46,0) scale(1.002,1)" x="0" y="703">2</text>
<text transform="translate(874.73,0) scale(0.938,1)" x="0" y="703">4</text>
<text transform="translate(885.99,0) scale(0.853,1)" x="0" y="703">M</text>
<text transform="translate(894.70,0) scale(0.736,1)" x="0" y="703">a</text>
<text transform="translate(901.27,0) scale(1.039,1)" x="0" y="703">r</text>
<text transform="translate(909.19,0) scale(0.785,1)" x="0" y="703">1</text>
<text transform="translate(915.72,0) scale(0.996,1)" x="0" y="703">3</text>
<text transform="translate(922.27,0) scale(1.489,1)" x="0" y="703">:</text>
<text transform="translate(927.34,0) scale(0.824,1)" x="0" y="703">0</text>
<text transform="translate(934.44,0) scale(0.824,1)" x="0" y="703">0</text>
<text transform="translate(963.46,0) scale(1.002,1)" x="0" y="703">2</text>
<text transform="translate(970.49,0) scale(0.996,1)" x="0" y="703">5</text>
<text transform="translate(981.99,0) scale(0.853,1)" x="0" y="703">M</text>
<text transform="translate(990.70,0) scale(0.736,1)" x="0" y="703">a</text>
<text transform="translate(997.27,0) scale(1.039,1)" x="0" y="703">r</text>
<text transform="translate(1005.19,0) scale(0.824,1)" x="0" y="703">0</text>
<text transform="translate(1012.29,0) scale(0.785,1)" x="0" y="703">1</text>
<text transform="translate(1018.27,0) scale(1.489,1)" x="0" y="703">:</text>
<text transform="translate(1023.34,0) scale(0.824,1)" x="0" y="703">0</text>
<text transform="translate(1030.44,0) scale(0.824,1)" x="0" y="703">0</text>
<text transform="translate(1059.46,0) scale(1.002,1)" x="0" y="703">2</text>
<text transform="translate(1066.49,0) scale(0.996,1)" x="0" y="703">5</text>
<text transform="translate(1077.99,0) scale(0.853,1)" x="0" y="703">M</text>
<text transform="translate(1086.70,0) scale(0.736,1)" x="0" y="703">a</text>
<text transform="translate(1093.27,0) scale(1.039,1)" x="0" y="703">r</text>
<text transform="translate(1101.19,0) scale(0.785,1)" x="0" y="703">1</text>
<text transform="translate(1107.72,0) scale(0.996,1)" x="0" y="703">3</text>
<text transform="translate(1114.27,0) scale(1.489,1)" x="0" y="703">:</text>
<text transform="translate(1119.34,0) scale(0.824,1)" x="0" y="703">0</text>
<text transform="translate(1126.44,0) scale(0.824,1)" x="0" y="703">0</text>
<text transform="translate(1155.46,0) scale(1.002,1)" x="0" y="703">2</text>
<text transform="translate(1162.34,0) scale(1.024,1)" x="0" y="703">6</text>
<text transform="translate(1173.99,0) scale(0.853,1)" x="0" y="703">M</text>
<text transform="translate(1182.70,0) scale(0.736,1)" x="0" y="703">a</text>
<text transform="translate(1189.27,0) scale(1.039,1)" x="0" y="703">r</text>
<text transform="translate(1197.19,0) scale(0.824,1)" x="0" y="703">0</text>
<text transform="translate(1204.29,0) scale(0.785,1)" x="0" y="703">1</text>
<text transform="translate(1210.27,0) scale(1.489,1)" x="0" y="703">:</text>
<text transform="translate(1215.34,0) scale(0.824,1)" x="0" y="703">0</text>
<text transform="translate(1222.44,0) scale(0.824,1)" x="0" y="703">0</text>
</g>
</svg></body></html>
